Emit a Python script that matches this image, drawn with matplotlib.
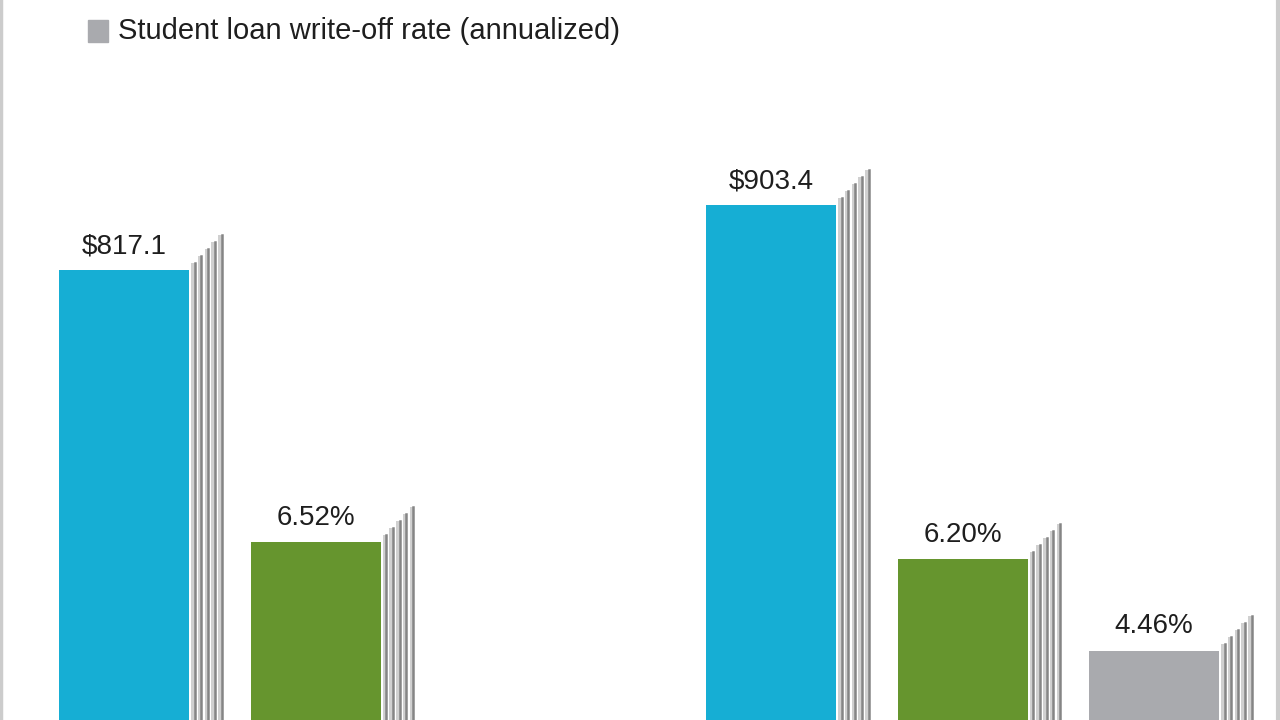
import matplotlib
matplotlib.use("Agg")
import matplotlib.pyplot as plt
import matplotlib.patches as mpatches
from matplotlib.lines import Line2D

plt.rcParams['font.family'] = ['Liberation Sans', 'DejaVu Sans']

# data (two periods, the first one has no write-off rate)
groups = ["Period 1", "Period 2"]
balance = [817.1, 903.4]          # student loan balance, $ billions
delinquency = [6.52, 6.20]        # percent
writeoff = [None, 4.46]           # percent, annualized
balance_labels = ["$817.1", "$903.4"]
delinq_labels = ["6.52%", "6.20%"]
writeoff_labels = ["", "4.46%"]
legend_label = "Student loan write-off rate (annualized)"

blue = "#16aed4"
green = "#66952e"
grey = "#a9aaae"

W, H = 1280, 720
fig = plt.figure(figsize=(W / 100, H / 100), dpi=100)

# axes reach below the figure so the bars look cut off at the bottom
base_px = 886
ax = fig.add_axes([0, (H - base_px) / H, 1, base_px / H])
ax.set_xlim(0, W)
ax.set_ylim(0, 1176)
ax.axis("off")
ax2 = ax.twinx()
ax2.set_ylim(0, 16.78)
ax2.axis("off")

group_start = [124, 771]
step = 191.5
bar_w = 130


def stack(axis, xc, val):
    # little "page" lines to the right of each bar
    lo, hi = axis.get_ylim()
    per_px = (hi - lo) / base_px
    right = xc + bar_w / 2
    for k in range(5):
        xl = right + 5.5 + k * 6.8
        top = val + (7 + k * 7) * per_px
        axis.fill_between([xl - 3.5, xl], 0, top, color="#d0d0d0", lw=0)
        axis.plot([xl, xl], [0, top], color="#858585", lw=1.8)


def label(axis, x, val, txt):
    axis.annotate(txt, (x, val), xytext=(0, 8), textcoords="offset points",
                  ha="center", va="bottom", fontsize=20, color="#1e1e1e")


for g in range(len(groups)):
    xb = group_start[g]
    ax.bar(xb, balance[g], width=bar_w, color=blue, zorder=3)
    stack(ax, xb, balance[g])
    label(ax, xb, balance[g], balance_labels[g])

    xg = xb + step
    ax2.bar(xg, delinquency[g], width=bar_w, color=green, zorder=3)
    stack(ax2, xg, delinquency[g])
    label(ax2, xg, delinquency[g], delinq_labels[g])

    if writeoff[g] is not None:
        xw = xb + 2 * step
        ax2.bar(xw, writeoff[g], width=bar_w, color=grey, zorder=3)
        stack(ax2, xw, writeoff[g])
        label(ax2, xw, writeoff[g], writeoff_labels[g])

# legend entry at the top
fig.patches.append(mpatches.Rectangle((88 / W, 1 - 42 / H), 20 / W, 22 / H,
                                      transform=fig.transFigure, color=grey))
fig.text(118 / W, 1 - 31 / H, legend_label, ha="left", va="center",
         fontsize=21, color="#1e1e1e")

# thin frame on both sides
fig.lines.append(Line2D([1 / W, 1 / W], [0, 1], transform=fig.transFigure,
                        color="#cccccc", lw=2.5))
fig.lines.append(Line2D([1 - 2 / W, 1 - 2 / W], [0, 1], transform=fig.transFigure,
                        color="#cccccc", lw=3))

fig.savefig("out.png", dpi=100)
